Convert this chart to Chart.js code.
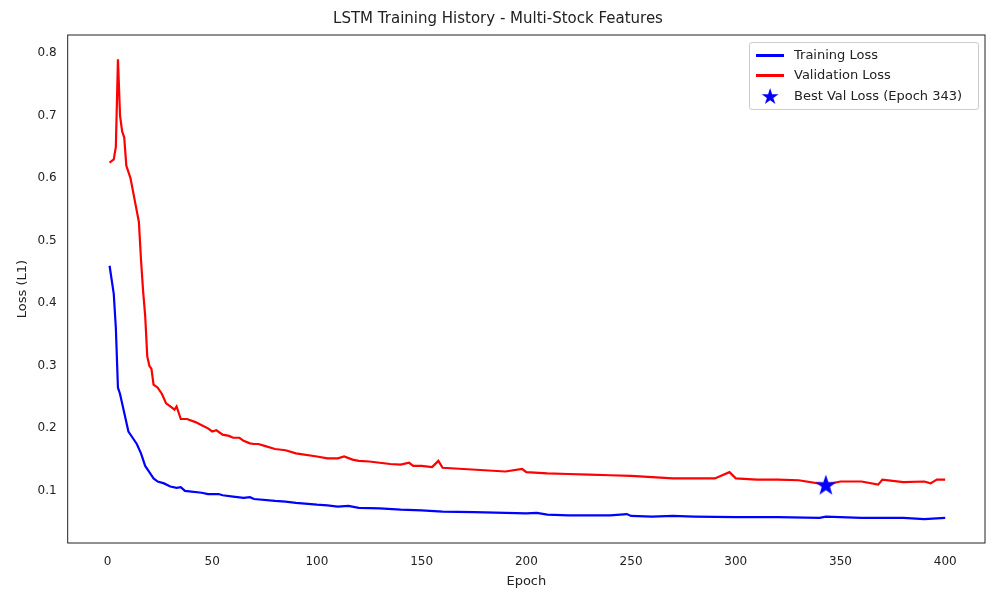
<!DOCTYPE html>
<html>
<head>
<meta charset="utf-8">
<script src="https://cdn.jsdelivr.net/npm/chart.js@4"></script>
<style>
body { margin: 0; background: #fff; font-family: "DejaVu Sans", sans-serif; }
#wrap { position: relative; width: 1000px; height: 600px; }
#legend { position: absolute; left: 749px; top: 42px; width: 228px; height: 66px; border: 1px solid #ccc; border-radius: 3px; background: #fff; font-size: 13px; color: #222; }
.row { position: absolute; left: 6px; height: 20px; line-height: 20px; }
.sw { display: inline-block; width: 28px; height: 3px; vertical-align: middle; margin-right: 10px; }
</style>
</head>
<body>
<div id="wrap">
<canvas id="chart" width="1000" height="600"></canvas>
<div id="legend">
  <div class="row" style="top:2px"><span class="sw" style="background:#0000ff"></span>Training Loss</div>
  <div class="row" style="top:22px"><span class="sw" style="background:#ff0000"></span>Validation Loss</div>
  <div class="row" style="top:43px"><span style="display:inline-block;width:28px;text-align:center;color:#0000ff;font-size:22px;margin-right:10px;vertical-align:middle">&#9733;</span>Best Val Loss (Epoch 343)</div>
</div>
</div>
<script>
'use strict';

var trainEpochs = [1, 3, 4, 5, 6, 8, 10, 12, 14, 16, 18, 20, 22, 24, 27, 30, 33, 35, 37, 45, 48, 50, 53, 55, 60, 65, 68, 70, 80, 85, 90, 100, 105, 110, 115, 120, 130, 140, 150, 160, 175, 190, 200, 205, 210, 220, 240, 248, 250, 260, 270, 280, 300, 320, 340, 343, 360, 380, 390, 400];
var trainLoss = [0.46, 0.415, 0.36, 0.265, 0.255, 0.225, 0.195, 0.185, 0.175, 0.16, 0.14, 0.13, 0.12, 0.115, 0.112, 0.107, 0.105, 0.106, 0.1, 0.097, 0.095, 0.095, 0.095, 0.093, 0.091, 0.089, 0.09, 0.087, 0.084, 0.083, 0.081, 0.078, 0.077, 0.075, 0.076, 0.073, 0.072, 0.07, 0.069, 0.067, 0.066, 0.065, 0.064, 0.065, 0.062, 0.061, 0.061, 0.063, 0.06, 0.059, 0.06, 0.059, 0.058, 0.058, 0.057, 0.059, 0.057, 0.057, 0.055, 0.057];

var valEpochs = [1, 3, 4, 5, 6, 7, 8, 9, 11, 13, 15, 16, 17, 18, 19, 20, 21, 22, 24, 26, 28, 30, 32, 33, 34, 35, 38, 42, 45, 48, 50, 52, 55, 58, 60, 63, 65, 68, 70, 72, 75, 80, 85, 90, 100, 105, 110, 113, 117, 120, 125, 130, 135, 140, 144, 146, 150, 155, 158, 160, 170, 180, 190, 198, 200, 210, 220, 230, 240, 250, 260, 270, 280, 290, 297, 300, 310, 320, 330, 343, 350, 360, 368, 370, 380, 390, 393, 396, 400];
var valLoss = [0.625, 0.63, 0.65, 0.79, 0.7, 0.675, 0.665, 0.62, 0.6, 0.565, 0.53, 0.47, 0.42, 0.38, 0.315, 0.3, 0.295, 0.27, 0.265, 0.255, 0.24, 0.235, 0.23, 0.235, 0.225, 0.215, 0.215, 0.21, 0.205, 0.2, 0.195, 0.197, 0.19, 0.188, 0.185, 0.185, 0.18, 0.176, 0.175, 0.175, 0.172, 0.167, 0.165, 0.16, 0.155, 0.152, 0.152, 0.155, 0.15, 0.148, 0.147, 0.145, 0.143, 0.142, 0.145, 0.14, 0.14, 0.138, 0.148, 0.137, 0.135, 0.133, 0.131, 0.135, 0.13, 0.128, 0.127, 0.126, 0.125, 0.124, 0.122, 0.12, 0.12, 0.12, 0.13, 0.12, 0.118, 0.118, 0.117, 0.11, 0.115, 0.115, 0.11, 0.118, 0.114, 0.115, 0.112, 0.118, 0.118];

var bestEpoch = 343;
var bestLoss = 0.11;

function toXY(xs, ys) {
    var out = [];
    for (var i = 0; i < xs.length; i++) {
        out.push({ x: xs[i], y: ys[i] });
    }
    return out;
}

function makeStar(size) {
    var c = document.createElement('canvas');
    c.width = size; c.height = size;
    var g = c.getContext('2d');
    var r = size / 2, ri = r * 0.4;
    g.beginPath();
    for (var i = 0; i < 10; i++) {
        var rad = i % 2 === 0 ? r : ri;
        var a = -Math.PI / 2 + i * Math.PI / 5;
        g.lineTo(r + rad * Math.cos(a), r + rad * Math.sin(a) + 1);
    }
    g.closePath();
    g.fillStyle = '#0000ff';
    g.fill();
    return c;
}

var frame = {
    id: 'frame',
    afterDraw: function (chart) {
        var a = chart.chartArea, ctx = chart.ctx;
        ctx.save();
        ctx.strokeStyle = '#222';
        ctx.lineWidth = 1;
        ctx.strokeRect(a.left, a.top, a.right - a.left, a.bottom - a.top);
        ctx.restore();
    }
};

Chart.defaults.font.family = '"DejaVu Sans", sans-serif';
Chart.defaults.color = '#222';

new Chart(document.getElementById('chart'), {
    type: 'line',
    data: {
        datasets: [{
            label: 'Training Loss',
            data: toXY(trainEpochs, trainLoss),
            borderColor: '#0000ff',
            borderWidth: 2.2,
            pointRadius: 0,
            order: 2
        }, {
            label: 'Validation Loss',
            data: toXY(valEpochs, valLoss),
            borderColor: '#ff0000',
            borderWidth: 2.2,
            pointRadius: 0,
            order: 2
        }, {
            label: 'Best Val Loss (Epoch 343)',
            data: [{ x: bestEpoch, y: bestLoss }],
            showLine: false,
            pointStyle: makeStar(22),
            order: 1
        }]
    },
    plugins: [frame],
    options: {
        responsive: false,
        animation: false,
        layout: { padding: { left: 11, right: 15, top: 0, bottom: 11 } },
        plugins: {
            legend: { display: false },
            tooltip: { enabled: false },
            title: { display: true, text: 'LSTM Training History - Multi-Stock Features', font: { size: 15, weight: 'normal' }, padding: { top: 10, bottom: 7 } }
        },
        scales: {
            x: {
                type: 'linear', min: -19, max: 419,
                grid: { display: false },
                border: { display: false },
                ticks: { padding: 4, font: { size: 12 } },
                afterBuildTicks: function (s) { s.ticks = [0, 50, 100, 150, 200, 250, 300, 350, 400].map(function (v) { return { value: v }; }); },
                title: { display: true, text: 'Epoch', font: { size: 13 }, padding: { top: 0, bottom: 0 } }
            },
            y: {
                min: 0.0167, max: 0.829,
                grid: { display: false },
                border: { display: false },
                afterBuildTicks: function (s) { s.ticks = [0.1, 0.2, 0.3, 0.4, 0.5, 0.6, 0.7, 0.8].map(function (v) { return { value: v }; }); },
                ticks: { font: { size: 12 }, callback: function (v) { return v.toFixed(1); } },
                title: { display: true, text: 'Loss (L1)', font: { size: 13 } }
            }
        }
    }
});
</script>
</body>
</html>
